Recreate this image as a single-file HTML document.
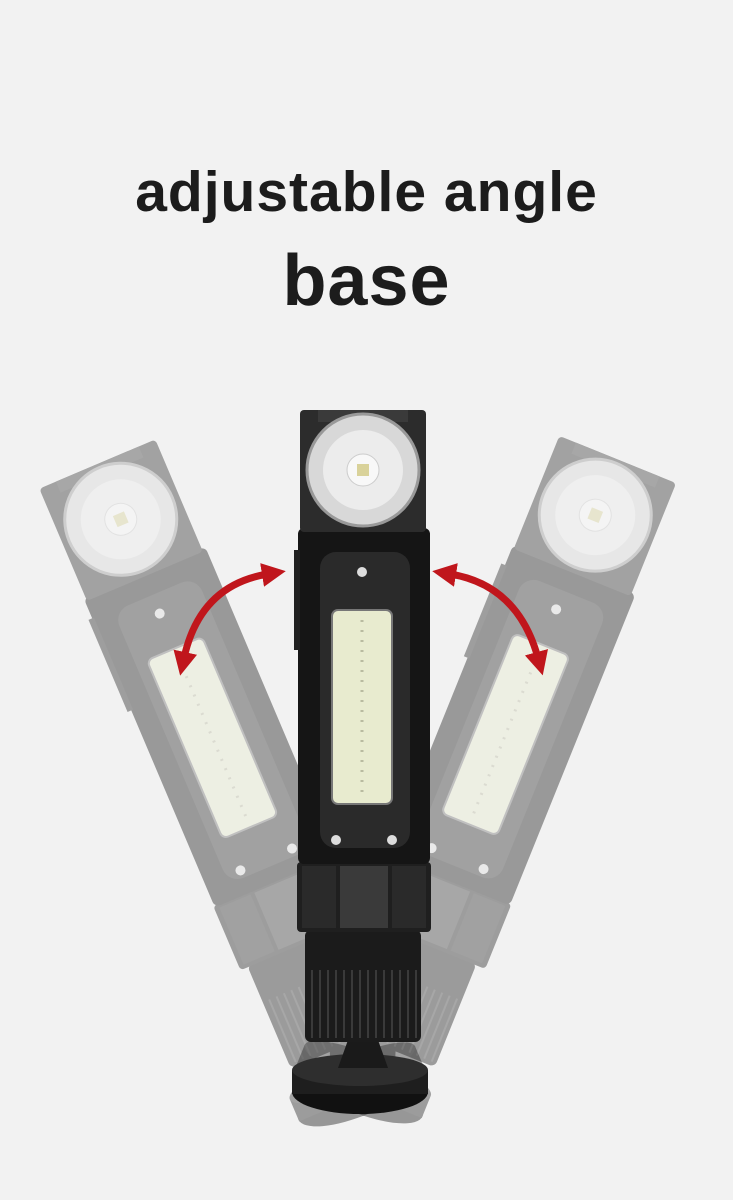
<!DOCTYPE html>
<html><head><meta charset="utf-8"><style>
html,body{margin:0;padding:0;background:#f2f2f2;}
body{width:733px;height:1200px;position:relative;overflow:hidden;font-family:"Liberation Sans",sans-serif;}
.t1{position:absolute;top:159px;left:0;width:733px;text-align:center;font-size:57px;font-weight:bold;color:#1c1c1c;letter-spacing:1px;}
.t2{position:absolute;top:240px;left:0;width:733px;text-align:center;font-size:72px;font-weight:bold;color:#1c1c1c;letter-spacing:1px;}
svg{position:absolute;left:0;top:0;}
</style></head><body>
<div class="t1">adjustable angle</div>
<div class="t2">base</div>
<svg width="733" height="1200" viewBox="0 0 733 1200">
<defs>
<g id="fl">
  <ellipse cx="360" cy="1092" rx="68" ry="22" fill="#111"/>
  <rect x="292" y="1070" width="136" height="24" fill="#1e1e1e"/>
  <ellipse cx="360" cy="1070" rx="68" ry="16" fill="#2e2e2e"/>
  <path d="M338 1068 L348 1040 L378 1040 L388 1068 Z" fill="#1a1a1a"/>
  <rect x="305" y="930" width="116" height="112" rx="6" fill="#1b1b1b"/>
  <g stroke="#3a3a3a" stroke-width="2">
    <line x1="312" y1="970" x2="312" y2="1038"/><line x1="320" y1="970" x2="320" y2="1038"/>
    <line x1="328" y1="970" x2="328" y2="1038"/><line x1="336" y1="970" x2="336" y2="1038"/>
    <line x1="344" y1="970" x2="344" y2="1038"/><line x1="352" y1="970" x2="352" y2="1038"/>
    <line x1="360" y1="970" x2="360" y2="1038"/><line x1="368" y1="970" x2="368" y2="1038"/>
    <line x1="376" y1="970" x2="376" y2="1038"/><line x1="384" y1="970" x2="384" y2="1038"/>
    <line x1="392" y1="970" x2="392" y2="1038"/><line x1="400" y1="970" x2="400" y2="1038"/>
    <line x1="408" y1="970" x2="408" y2="1038"/><line x1="416" y1="970" x2="416" y2="1038"/>
  </g>
  <rect x="297" y="862" width="134" height="70" rx="4" fill="#1f1f1f"/>
  <rect x="340" y="866" width="48" height="62" fill="#3a3a3a"/>
  <rect x="302" y="866" width="34" height="62" fill="#2a2a2a"/>
  <rect x="392" y="866" width="34" height="62" fill="#2a2a2a"/>
  <rect x="298" y="528" width="132" height="336" rx="6" fill="#151515"/>
  <rect x="320" y="552" width="90" height="296" rx="16" fill="#2a2a2a"/>
  <rect x="332" y="610" width="60" height="194" rx="6" fill="#e8ebcf" stroke="#777" stroke-width="2"/>
  <line x1="362" y1="620" x2="362" y2="795" stroke="#b9bba0" stroke-width="3" stroke-dasharray="2 8"/>
  <circle cx="362" cy="572" r="5" fill="#ddd"/>
  <circle cx="336" cy="840" r="5" fill="#ddd"/>
  <circle cx="392" cy="840" r="5" fill="#ddd"/>
  <rect x="294" y="550" width="6" height="100" fill="#222"/>
  <rect x="300" y="410" width="126" height="122" rx="4" fill="#2c2c2c"/>
  <rect x="318" y="410" width="90" height="12" fill="#3a3a3a"/>
  <circle cx="363" cy="470" r="56" fill="#d8d8d8" stroke="#999" stroke-width="3"/>
  <circle cx="363" cy="470" r="40" fill="#ececec"/>
  <circle cx="363" cy="470" r="16" fill="#f8f8f8" stroke="#ccc"/>
  <rect x="357" y="464" width="12" height="12" fill="#d9d29a"/>
</g>
<marker id="ah" markerWidth="24" markerHeight="24" refX="6" refY="12" orient="auto-start-reverse" markerUnits="userSpaceOnUse">
  <path d="M0 0 L24 12 L0 24 Z" fill="#c0161c"/>
</marker>
</defs>
<g opacity="0.4" transform="rotate(-23 363 1090)"><use href="#fl"/></g>
<g opacity="0.4" transform="rotate(22 363 1090)"><use href="#fl"/></g>
<use href="#fl"/>
<path d="M268 574 Q200 585 184 658" fill="none" stroke="#c0161c" stroke-width="7" marker-start="url(#ah)" marker-end="url(#ah)"/>
<path d="M450 574 Q518 585 538 658" fill="none" stroke="#c0161c" stroke-width="7" marker-start="url(#ah)" marker-end="url(#ah)"/>
</svg>
</body></html>
